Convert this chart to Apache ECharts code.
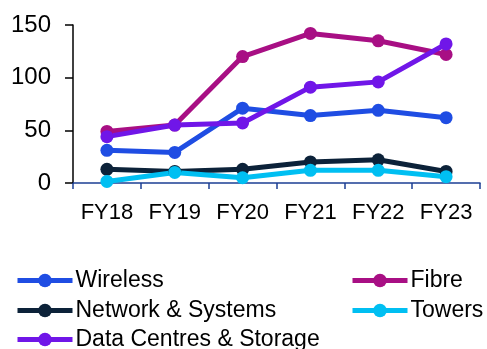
<!DOCTYPE html>
<html>
<head>
<meta charset="utf-8">
<script src="https://cdn.jsdelivr.net/npm/echarts@6/dist/echarts.min.js"></script>
<style>
  html, body { margin: 0; padding: 0; background: #fff; }
  #chart { width: 487px; height: 349px; }
</style>
</head>
<body>
<div id="chart"></div>
<script>
// Fiscal years on the category axis
const years = ['FY18', 'FY19', 'FY20', 'FY21', 'FY22', 'FY23'];

// Series values per segment
const wireless = [31, 29, 71, 64, 69, 62];
const fibre = [49, 55, 120, 142, 135, 122];
const network = [13, 11, 13, 20, 22, 11];
const towers = [1.5, 10, 5, 12, 12, 6];
const dataCentres = [44, 55, 57, 91, 96, 132];

const yTicks = [0, 50, 100, 150];

const FONT = 'Liberation Sans, Arial, sans-serif';

const seriesDefs = [
  { name: 'Wireless', data: wireless, color: '#1f4de3' },
  { name: 'Fibre', data: fibre, color: '#a80f84' },
  { name: 'Network & Systems', data: network, color: '#0c2239' },
  { name: 'Towers', data: towers, color: '#00bff2' },
  { name: 'Data Centres & Storage', data: dataCentres, color: '#7016e8' }
];

// Legend entries laid out in two columns under the plot
const legendSlots = [
  { name: 'Wireless', left: 15, top: 269 },
  { name: 'Network & Systems', left: 15, top: 299 },
  { name: 'Data Centres & Storage', left: 15, top: 328 },
  { name: 'Fibre', left: 350, top: 269 },
  { name: 'Towers', left: 350, top: 299 }
];

const chart = echarts.init(document.getElementById('chart'));
chart.setOption({
  animation: false,
  grid: { left: 73, right: 7, top: 25, bottom: 166, containLabel: false },
  legend: legendSlots.map(slot => ({
    data: [slot.name],
    left: slot.left,
    top: slot.top,
    padding: 0,
    itemWidth: 55,
    itemHeight: 17,
    lineStyle: { width: 5 },
    textStyle: { fontFamily: FONT, fontSize: 23, color: '#000', padding: [0, 0, 0, -2] },
    selectedMode: false
  })),
  xAxis: {
    type: 'category',
    data: years,
    boundaryGap: true,
    axisLine: { lineStyle: { color: '#1d3f94', width: 1.5 } },
    axisTick: { show: true, length: 6, lineStyle: { color: '#1d3f94', width: 1.5 } },
    axisLabel: { fontFamily: FONT, fontSize: 22, color: '#000', margin: 19, interval: 0 }
  },
  yAxis: {
    type: 'value',
    min: yTicks[0],
    max: yTicks[yTicks.length - 1],
    interval: 50,
    splitLine: { show: false },
    axisLine: { show: true, lineStyle: { color: '#000', width: 1.5 } },
    axisTick: { show: true, length: 8, lineStyle: { color: '#000', width: 1.5 } },
    axisLabel: { fontFamily: FONT, fontSize: 24, color: '#000', margin: 22 }
  },
  series: seriesDefs.map(s => ({
    name: s.name,
    type: 'line',
    data: s.data,
    symbol: 'circle',
    symbolSize: 13,
    color: s.color,
    lineStyle: { width: 5, color: s.color },
    itemStyle: { color: s.color }
  }))
});
</script>
</body>
</html>
